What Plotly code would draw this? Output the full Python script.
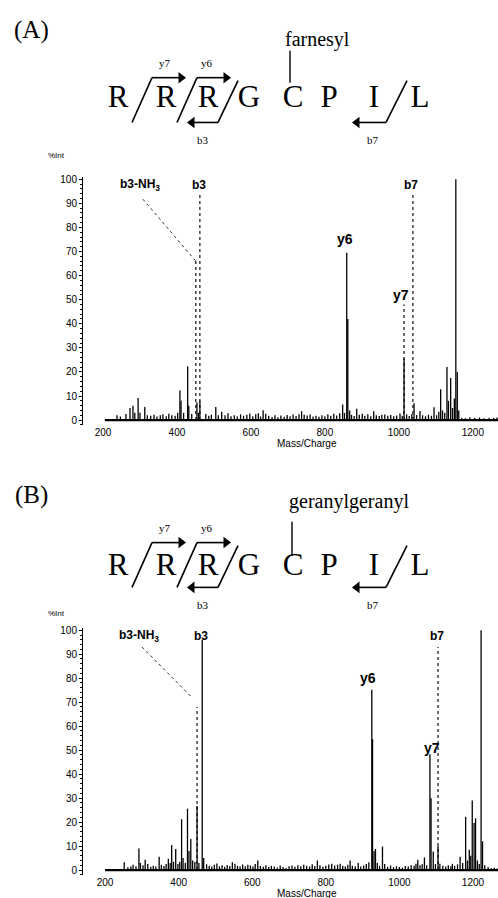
import plotly.graph_objects as go

W, H = 498, 898

# ---------------- data ----------------
X_TICKS = [200, 400, 600, 800, 1000, 1200]
Y_TICKS = [0, 10, 20, 30, 40, 50, 60, 70, 80, 90, 100]
RESIDUES = ["R", "R", "R", "G", "C", "P", "I", "L"]
SPEC_RANGE_A = [205, 1268]
SPEC_RANGE_B = [200, 1268]

# Panel A (farnesyl) : solid peaks
A_MZ = [238, 247, 262, 273, 281, 286, 295, 300, 313, 320, 329, 338, 346, 355, 362, 371, 378, 386,
        395, 402, 408, 411, 418, 429, 432, 440, 454, 458, 462, 478, 486, 493, 505, 512, 521, 530,
        538, 546, 555, 563, 572, 580, 589, 597, 605, 613, 620, 626, 633, 640, 648, 657, 665, 673,
        681, 690, 698, 706, 714, 722, 730, 737, 744, 752, 760, 768, 776, 784, 792, 800, 808, 816,
        824, 832, 840, 848, 853, 859, 862, 867, 872, 879, 886, 893, 901, 908, 916, 924, 932, 939,
        947, 954, 962, 970, 978, 986, 994, 1003, 1009, 1014, 1021, 1028, 1035, 1041, 1048, 1057,
        1064, 1072, 1080, 1088, 1095, 1102, 1108, 1113, 1118, 1124, 1130, 1134, 1140, 1145, 1150,
        1154, 1158, 1162, 1170, 1180, 1192, 1205, 1218, 1230, 1244, 1256, 1265]
A_INT = [2, 1.5, 2.5, 5, 6, 3, 9.2, 3, 5.4, 2, 1.8, 2.2, 1.5, 2, 2.4, 1.6, 2.6, 2,
         1.8, 3, 12.3, 8, 3, 22.3, 6, 2.5, 7.4, 3, 8, 2.5, 1.8, 2.2, 5.4, 2, 3.5, 2,
         2.8, 1.6, 2, 1.5, 2.4, 1.8, 2.2, 2.7, 1.6, 2.4, 2.8, 1.5, 4.1, 2.6, 1.8, 1.3, 2, 1.2,
         1.9, 1.4, 2.1, 1.6, 2.3, 1.7, 2.4, 3.7, 2.2, 1.9, 2.3, 1.5, 1.8, 1.4, 2, 1.6, 2.4, 1.8,
         2.6, 1.9, 2.8, 6.5, 3, 69.5, 42, 4, 2.2, 1.7, 4.7, 2.2, 2.6, 1.8, 2.4, 1.6, 3.7, 2,
         1.7, 2.2, 2.3, 1.8, 2.1, 1.6, 1.9, 2.7, 1.8, 25.6, 2.4, 1.7, 2.5, 7, 2.1, 3.8,
         2, 1.6, 2.2, 1.8, 5.3, 2, 3.5, 12.8, 4, 3, 22, 8, 17.5, 5, 9,
         100, 20, 4, 1, 0.8, 1.2, 0.9, 1.1, 0.8, 1, 0.9, 1.1]
# Panel A : dotted label leaders
A_LEAD_MZ = [451, 462, 1014, 1038]
A_LEAD_TOP = [66, 94, 48, 94]
A_SLANT_MZ = [308, 451]
A_SLANT_INT = [91.7, 66]
A_LABELS = ["b3-NH<sub>3</sub>", "b3", "y6", "y7", "b7"]
A_LABEL_MZ = [300, 460, 854, 1006, 1032]
A_LABEL_INT = [97.5, 97.5, 75, 52, 97.5]

# Panel B (geranylgeranyl) : solid peaks
B_MZ = [210, 252, 262, 270, 276, 284, 292, 296, 303, 309, 316, 324, 331, 338, 347, 353, 360, 366,
        372, 377, 381, 386, 392, 398, 403, 408, 412, 418, 424, 428, 433, 438, 444, 450, 455, 464,
        468, 476, 483, 490, 497, 504, 511, 518, 525, 532, 539, 546, 553, 560, 567, 574, 581, 588,
        595, 602, 608, 615, 622, 630, 637, 645, 652, 660, 668, 676, 684, 692, 700, 708, 716, 724,
        732, 740, 748, 756, 763, 770, 777, 784, 792, 800, 808, 816, 824, 832, 839, 846, 853, 860,
        866, 872, 880, 888, 895, 903, 910, 917, 925, 927, 931, 935, 940, 946, 954, 960, 968, 976,
        984, 992, 1000, 1008, 1016, 1024, 1032, 1040, 1045, 1050, 1056, 1062, 1068, 1074, 1083,
        1086, 1092, 1098, 1105, 1110, 1118, 1126, 1133, 1140, 1144, 1150, 1158, 1165, 1172, 1180,
        1185, 1190, 1194, 1198, 1203, 1207, 1212, 1217, 1222, 1226, 1232, 1241, 1250, 1258, 1266]
B_INT = [0.5, 3.3, 1.2, 1.5, 2.2, 1.6, 9, 3, 2, 4.3, 2.5, 1.4, 1.8, 1.5, 5.6, 2.2, 1.7, 2.5,
         4.7, 3, 10.5, 3.5, 8.8, 2.5, 3.5, 21.2, 5, 3, 25.6, 8, 13, 4, 3.4, 26.7, 3, 96,
         5, 2.4, 1.8, 1.5, 2.2, 2.8, 1.6, 2, 1.4, 2.1, 1.7, 3.3, 2.6, 1.8, 1.5, 2.3, 1.6, 2.2,
         1.9, 1.5, 2.5, 4, 1.7, 1.4, 2, 1.3, 1.8, 1.5, 1.1, 1.9, 1.3, 0.9, 1.6, 1.9, 1.4, 2,
         1.6, 2.2, 1.8, 1.5, 2.4, 1.7, 4, 2, 1.4, 1.8, 2.3, 2.6, 1.9, 2.2, 2.6, 1.8, 1.5, 2.2,
         4, 1.8, 1.6, 3, 1.5, 1.9, 2.5, 3.3, 75.2, 54.5, 8, 8.8, 3, 1.8, 9.8, 2.5, 1.4, 1.9,
         1.2, 1.6, 1.3, 1.1, 1.7, 1.5, 2, 1.8, 2.6, 4.3, 2, 2.4, 5.3, 2, 48.3,
         30, 7.8, 2.5, 10, 2.6, 1.8, 1.5, 2, 1.6, 2.6, 1.8, 2.4, 5.6, 3, 22.2,
         4, 8.5, 6, 29, 19.6, 21.6, 4, 2.5, 100, 12, 2, 1.3, 0.8, 1, 0.7]
B_LEAD_MZ = [450, 1105]
B_LEAD_TOP = [68, 93]
B_SLANT_MZ = [300, 436]
B_SLANT_INT = [93, 72]
B_LABELS = ["b3-NH<sub>3</sub>", "b3", "y6", "y7", "b7"]
B_LABEL_MZ = [292, 462, 915, 1089, 1102]
B_LABEL_INT = [97.5, 97.5, 80, 51, 97.5]

# ---------------- helpers ----------------
def fy(p):
    return 1 - p / H


def sticks(xs, ys):
    X, Y = [], []
    for x, y in zip(xs, ys):
        X += [x, x, None]
        Y += [0, y, None]
    return X, Y


SANS = "Liberation Sans"
SERIF = "Liberation Serif"

fig = go.Figure()


def add_panel(xa, ya, mz, inten, lead_mz, lead_top, slant_mz, slant_int, rng):
    sx, sy = sticks(mz, inten)
    fig.add_trace(go.Scatter(x=rng, y=[0, 0], mode="lines", xaxis=xa, yaxis=ya,
                             line=dict(color="black", width=2.2), hoverinfo="skip"))
    lx, ly = sticks(lead_mz, lead_top)
    fig.add_trace(go.Scatter(x=lx, y=ly, mode="lines", xaxis=xa, yaxis=ya,
                             line=dict(color="#222", width=1.3, dash="dot"), hoverinfo="skip"))
    fig.add_trace(go.Scatter(x=slant_mz, y=slant_int, mode="lines", xaxis=xa, yaxis=ya,
                             line=dict(color="#333", width=1.0, dash="dot"), hoverinfo="skip"))
    fig.add_trace(go.Scatter(x=sx, y=sy, mode="lines", xaxis=xa, yaxis=ya,
                             line=dict(color="black", width=1.3), hoverinfo="skip"))


add_panel("x", "y", A_MZ, A_INT, A_LEAD_MZ, A_LEAD_TOP, A_SLANT_MZ, A_SLANT_INT, SPEC_RANGE_A)
add_panel("x2", "y2", B_MZ, B_INT, B_LEAD_MZ, B_LEAD_TOP, B_SLANT_MZ, B_SLANT_INT, SPEC_RANGE_B)

# residues (diagram, pixel-space overlay axis)
RES_X = [118, 166, 208, 249, 293, 329, 374, 420]
for y0 in (97, 567):
    fig.add_trace(go.Scatter(x=RES_X, y=[y0] * len(RES_X), text=RESIDUES, mode="text",
                             xaxis="x3", yaxis="y3", hoverinfo="skip",
                             textfont=dict(family=SERIF, size=31, color="black")))

annotations = []
shapes = []
head_x, head_y, head_sym = [], [], []

# spectrum peak labels
for xa, ya, labs, lmz, lint in (("x", "y", A_LABELS, A_LABEL_MZ, A_LABEL_INT),
                               ("x2", "y2", B_LABELS, B_LABEL_MZ, B_LABEL_INT)):
    for t, m, v in zip(labs, lmz, lint):
        big = t in ("y6", "y7")
        annotations.append(dict(x=m, y=v, xref=xa, yref=ya, text="<b>%s</b>" % t, showarrow=False,
                                yanchor="middle",
                                font=dict(family=SANS, size=14 if big else 12, color="black")))


def diagram(dy, mod_text, mod_x, mod_y, mod_line, panel, font_mod):
    ov = dict(xref="x3", yref="y3")
    annotations.append(dict(x=31, y=27 + dy, text=panel, showarrow=False,
                            font=dict(family=SERIF, size=25, color="black"), **ov))
    annotations.append(dict(x=mod_x, y=mod_y, text=mod_text, showarrow=False,
                            font=dict(family=SERIF, size=font_mod, color="black"), **ov))
    shapes.append(dict(type="line", x0=mod_line[0], x1=mod_line[0], y0=mod_line[1], y1=mod_line[2],
                       line=dict(color="black", width=1.4), **ov))
    for (x0, y0, x1, y1) in ((132, 120, 152, 75), (177, 120, 197, 75),
                             (218, 120, 238, 78), (386, 120, 407, 78)):
        shapes.append(dict(type="line", x0=x0, y0=y0 + dy, x1=x1, y1=y1 + dy,
                           line=dict(color="black", width=1.6), **ov))
    for (tx, hx, yy) in ((152, 185, 75), (197, 230, 75), (218, 188, 120), (386, 353, 120)):
        right = hx > tx
        shapes.append(dict(type="line", x0=tx, y0=yy + dy, x1=hx + (-5 if right else 5), y1=yy + dy,
                           line=dict(color="black", width=1.6), **ov))
        head_x.append(hx - 4 if right else hx + 4)
        head_y.append(yy + dy)
        head_sym.append("triangle-right" if right else "triangle-left")
    for (t, x, y) in (("y7", 165, 60), ("y6", 207, 60), ("b3", 203, 138), ("b7", 373, 138)):
        annotations.append(dict(x=x, y=y + dy, text=t, showarrow=False,
                                font=dict(family=SERIF, size=11, color="black"), **ov))
    annotations.append(dict(x=56, y=153 + (dy - 7 if dy else 0), text="%Int", showarrow=False,
                            font=dict(family=SANS, size=8, color="black"), **ov))


diagram(0, "farnesyl", 317, 37, (290, 48, 80), "(A)", 20)
diagram(467, "geranylgeranyl", 349, 501, (292, 521, 555), "(B)", 20)

fig.add_trace(go.Scatter(x=head_x, y=head_y, mode="markers", xaxis="x3", yaxis="y3",
                         hoverinfo="skip",
                         marker=dict(symbol=head_sym, size=10, color="black", line=dict(width=0))))

for y in (442, 894):
    annotations.append(dict(x=307, y=y, xref="x3", yref="y3", text="Mass/Charge", showarrow=False,
                            font=dict(family=SANS, size=10, color="black")))

yax = dict(range=[-2, 101], tickvals=Y_TICKS, showline=True, linecolor="black", linewidth=1,
           ticks="outside", ticklen=3, tickcolor="black", showgrid=False, zeroline=False,
           tickfont=dict(family=SANS, size=10, color="black"),
           minor=dict(ticks="outside", ticklen=2, dtick=2, tickcolor="black"))
xax = dict(tickvals=X_TICKS, showline=False, ticks="", showgrid=False, zeroline=False,
           tickfont=dict(family=SANS, size=10, color="black"))

fig.update_layout(
    width=W, height=H, margin=dict(l=0, r=0, t=0, b=0),
    paper_bgcolor="white", plot_bgcolor="rgba(0,0,0,0)", showlegend=False,
    xaxis=dict(domain=[83 / W, 1], range=[146, 1268], anchor="y", **xax),
    yaxis=dict(domain=[fy(423.8), fy(174.6)], anchor="x", **yax),
    xaxis2=dict(domain=[83 / W, 1], range=[140, 1268], anchor="y2", **xax),
    yaxis2=dict(domain=[fy(875.8), fy(627.6)], anchor="x2", **yax),
    xaxis3=dict(domain=[0, 1], range=[0, W], anchor="y3", visible=False, fixedrange=True),
    yaxis3=dict(domain=[0, 1], range=[H, 0], anchor="x3", visible=False, fixedrange=True),
    annotations=annotations, shapes=shapes,
)

fig.write_html("out.html", config={"displayModeBar": False},
               post_script="document.body.style.margin='0';")
